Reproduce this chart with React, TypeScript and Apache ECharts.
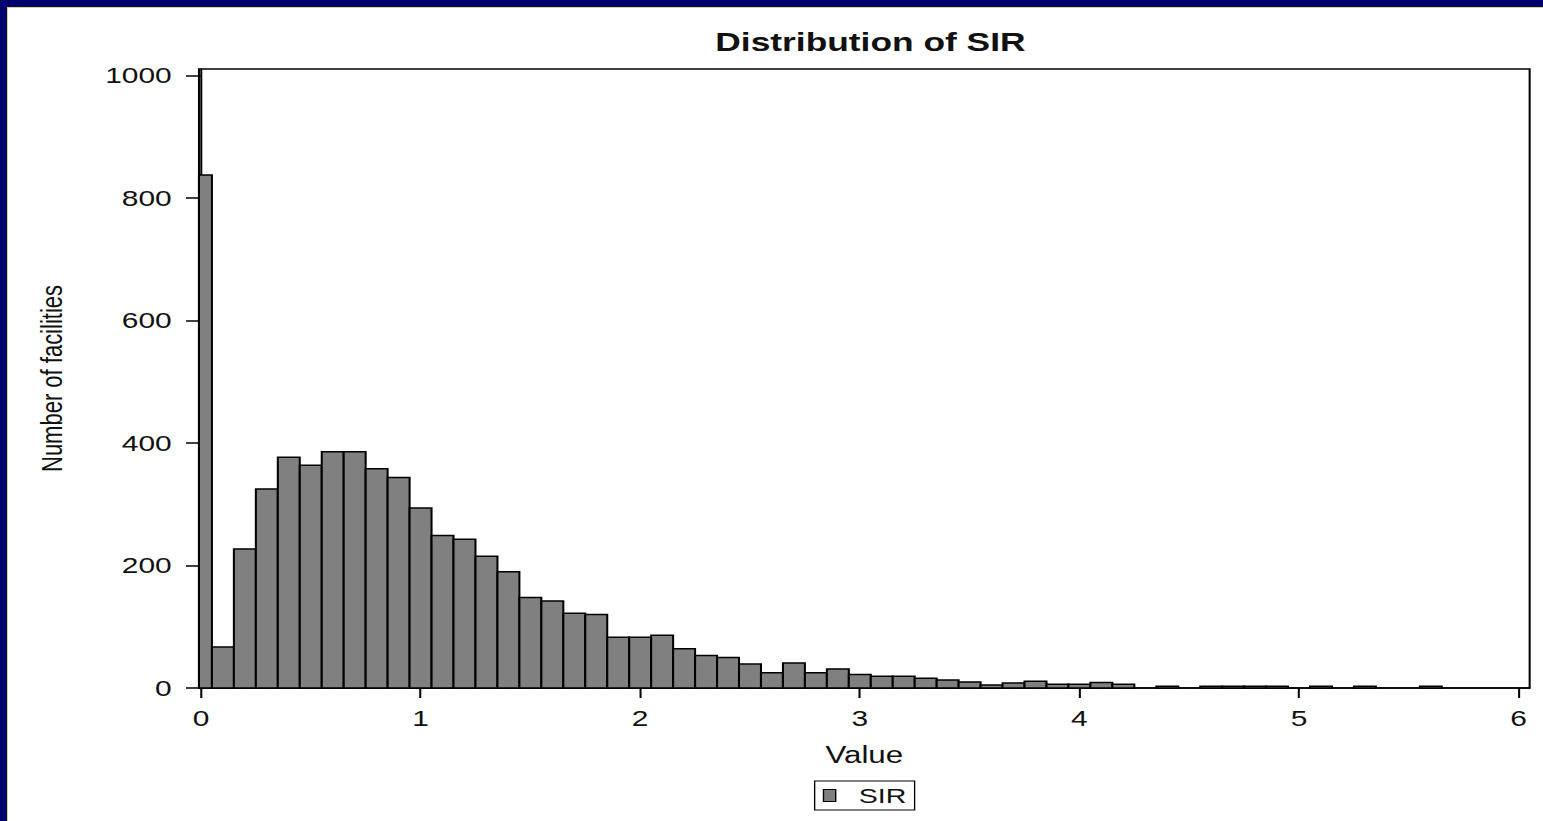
import React, { useEffect, useRef } from "react";
import * as echarts from "echarts";

// Histogram of SIR values: bin centres (width 0.1) and facility counts
const binCenters = [
  0.0, 0.1, 0.2, 0.3, 0.4, 0.5, 0.6, 0.7, 0.8, 0.9,
  1.0, 1.1, 1.2, 1.3, 1.4, 1.5, 1.6, 1.7, 1.8, 1.9,
  2.0, 2.1, 2.2, 2.3, 2.4, 2.5, 2.6, 2.7, 2.8, 2.9,
  3.0, 3.1, 3.2, 3.3, 3.4, 3.5, 3.6, 3.7, 3.8, 3.9,
  4.0, 4.1, 4.2, 4.3, 4.4, 4.5, 4.6, 4.7, 4.8, 4.9,
  5.0, 5.1, 5.2, 5.3, 5.4, 5.5, 5.6,
];
const counts = [
  838, 67, 227, 325, 377, 364, 386, 386, 358, 344,
  294, 249, 243, 215, 190, 148, 142, 122, 120, 83,
  83, 86, 64, 53, 50, 39, 25, 41, 25, 31,
  22, 19, 19, 16, 13, 10, 5, 8, 11, 6,
  6, 9, 6, 0, 3, 0, 3, 3, 3, 3,
  0, 3, 0, 3, 0, 0, 3,
];
const BIN_WIDTH = 0.1;
const xTicks = [0, 1, 2, 3, 4, 5, 6];
const yTicks = [0, 200, 400, 600, 800, 1000];

const SCALE_X = 1.36;
const PAGE_W = 1543;
const PAGE_H = 821;
const CHART_W = PAGE_W / SCALE_X;

export default function App() {
  const ref = useRef<HTMLDivElement>(null);

  useEffect(() => {
    document.body.style.margin = "0";
    if (!ref.current) return;
    const chart = echarts.init(ref.current, null, { renderer: "svg" });
    const data = binCenters.map((c, i) => [c, counts[i]]);
    const labelFont = "'Liberation Sans', Arial, sans-serif";

    chart.setOption({
      animation: false,
      backgroundColor: "#ffffff",
      title: {
        text: "Distribution of SIR",
        left: 635,
        top: 24,
        textAlign: "center",
        textStyle: {
          fontFamily: labelFont,
          fontWeight: "bold",
          fontSize: 26,
          color: "#111",
        },
      },
      legend: {
        left: 599,
        top: 781,
        padding: [4, 6, 4, 6],
        borderColor: "#000",
        borderWidth: 1,
        itemWidth: 9,
        itemHeight: 12,
        data: [
          {
            name: "SIR",
            icon: "rect",
            itemStyle: { color: "#808080", borderColor: "#000", borderWidth: 1 },
          },
        ],
        textStyle: {
          fontFamily: labelFont,
          fontSize: 21,
          color: "#111",
          padding: [0, 0, 0, 12],
        },
      },
      grid: {
        left: 146.3,
        right: CHART_W - 1124.3,
        top: 69,
        bottom: 133,
        show: true,
        borderColor: "#000",
        borderWidth: 1.5,
        backgroundColor: "transparent",
        containLabel: false,
      },
      xAxis: {
        type: "value",
        min: -0.009,
        max: 6.05,
        name: "Value",
        nameLocation: "middle",
        nameGap: 56,
        nameTextStyle: { fontFamily: labelFont, fontSize: 23, color: "#111" },
        axisLine: { show: true, onZero: false, lineStyle: { color: "#000", width: 1.5 } },
        axisTick: {
          show: true,
          length: 10,
          customValues: xTicks,
          lineStyle: { color: "#000", width: 1.5 },
        },
        axisLabel: {
          customValues: xTicks,
          margin: 19,
          fontFamily: labelFont,
          fontSize: 22,
          color: "#111",
          formatter: (v: number) => String(v),
        },
        splitLine: { show: false },
      },
      yAxis: {
        type: "value",
        min: 0,
        max: 1011,
        name: "Number of facilities",
        nameLocation: "middle",
        nameGap: 97,
        nameRotate: 90,
        nameTextStyle: { fontFamily: labelFont, fontSize: 22, color: "#111" },
        axisLine: { show: true, lineStyle: { color: "#000", width: 1.5 } },
        axisTick: {
          show: true,
          length: 11,
          customValues: yTicks,
          lineStyle: { color: "#000", width: 1.5 },
        },
        axisLabel: {
          customValues: yTicks,
          margin: 20,
          fontFamily: labelFont,
          fontSize: 22,
          color: "#111",
          formatter: (v: number) => String(v),
        },
        splitLine: { show: false },
      },
      series: [
        {
          name: "SIR",
          type: "custom",
          data,
          itemStyle: { color: "#808080", borderColor: "#000", borderWidth: 1.5 },
          renderItem: (params: any, api: any) => {
            const x = api.value(0);
            const y = api.value(1);
            if (!y) return null;
            const p0 = api.coord([x - BIN_WIDTH / 2, y]);
            const p1 = api.coord([x + BIN_WIDTH / 2, 0]);
            const cs = params.coordSys;
            const rect = echarts.graphic.clipRectByRect(
              { x: p0[0], y: p0[1], width: p1[0] - p0[0], height: p1[1] - p0[1] },
              { x: cs.x, y: cs.y, width: cs.width, height: cs.height }
            );
            if (!rect) return null;
            return {
              type: "rect",
              shape: rect,
              style: { fill: "#808080", stroke: "#000", lineWidth: 1.5 },
            };
          },
        },
      ],
    });

    return () => {
      chart.dispose();
    };
  }, []);

  return (
    <div
      style={{
        position: "relative",
        width: PAGE_W,
        height: PAGE_H,
        background: "#fff",
        overflow: "hidden",
      }}
    >
      <div
        ref={ref}
        style={{
          position: "absolute",
          left: 0,
          top: 0,
          width: CHART_W,
          height: PAGE_H,
          transform: `scaleX(${SCALE_X})`,
          transformOrigin: "0 0",
        }}
      />
      <div style={{ position: "absolute", left: 0, top: 0, width: PAGE_W, height: 6, background: "#000070" }} />
      <div style={{ position: "absolute", left: 0, top: 0, width: 6, height: PAGE_H, background: "#000070" }} />
      <div style={{ position: "absolute", left: 6, top: 6, width: PAGE_W - 6, height: 1, background: "#111" }} />
      <div style={{ position: "absolute", left: 6, top: 6, width: 1, height: PAGE_H - 6, background: "#111" }} />
      <div style={{ position: "absolute", left: 7, top: 7, width: PAGE_W - 7, height: 1, background: "#ccc" }} />
      <div style={{ position: "absolute", left: 7, top: 7, width: 1, height: PAGE_H - 7, background: "#ccc" }} />
    </div>
  );
}
